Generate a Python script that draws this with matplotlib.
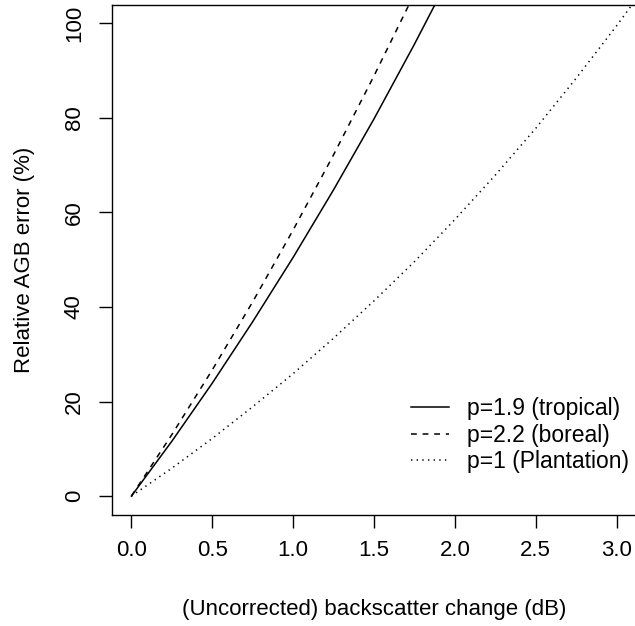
import matplotlib
matplotlib.use("Agg")
import matplotlib.pyplot as plt

# Values (dB change -> relative AGB error, %)
db_tropical = [0.0, 0.25, 0.5, 0.75, 1.0, 1.25, 1.5, 1.75, 1.9]
err_tropical = [0.0, 11.6, 23.9, 36.9, 50.5, 64.8, 79.8, 95.6, 105.5]

db_boreal = [0.0, 0.25, 0.5, 0.75, 1.0, 1.25, 1.5, 1.75]
err_boreal = [0.0, 13.0, 26.7, 41.1, 56.3, 72.2, 88.9, 106.3]

db_plant = [0.0, 0.25, 0.5, 0.75, 1.0, 1.25, 1.5, 1.75, 2.0, 2.25, 2.5, 2.75, 3.0, 3.15]
err_plant = [0.0, 5.9, 12.2, 18.9, 25.9, 33.4, 41.3, 49.6, 58.5, 67.9, 77.8, 88.4, 99.5, 106.5]

labels = ["p=1.9 (tropical)", "p=2.2 (boreal)", "p=1 (Plantation)"]
xticks = [0.0, 0.5, 1.0, 1.5, 2.0, 2.5, 3.0]
yticks = [0, 20, 40, 60, 80, 100]

plt.rcParams['font.family'] = ['Liberation Sans', 'DejaVu Sans']
W, H = 635, 626
fig = plt.figure(figsize=(W / 100, H / 100), dpi=100)
left, right, bottom, top = 112 / W, 636 / W, 1 - 515 / H, 1 - 4.5 / H
ax = fig.add_axes([left, bottom, right - left, top - bottom])

lw = 1.1
ax.plot(db_tropical, err_tropical, color='black', lw=lw, label=labels[0])
ax.plot(db_boreal, err_boreal, color='black', lw=lw, dashes=(3.8, 3.8), label=labels[1])
ax.plot(db_plant, err_plant, color='black', lw=lw, dashes=(0.9, 2.8), label=labels[2])

ax.set_xlim(-0.12, 3.12)
ax.set_ylim(-4, 104)
ax.set_xticks(xticks)
ax.set_xticklabels([f"{v:.1f}" for v in xticks])
ax.set_yticks(yticks)
ax.set_yticklabels([str(v) for v in yticks], rotation=90, va='center')

fs = 16
ax.tick_params(axis='both', direction='out', length=9.5, width=1.0, labelsize=fs, color='black')
ax.tick_params(axis='x', pad=8.5)
ax.tick_params(axis='y', pad=10)
for s in ax.spines.values():
    s.set_linewidth(1.0)
    s.set_color('black')

ax.set_xlabel("(Uncorrected) backscatter change (dB)", fontsize=fs, labelpad=27)
ax.set_ylabel("Relative AGB error (%)", fontsize=fs, labelpad=21)

leg = ax.legend(loc='lower right', bbox_to_anchor=(629 / W, (626 - 473) / H),
                bbox_transform=fig.transFigure, frameon=False, fontsize=16.5,
                handlelength=1.65, handletextpad=0.8, labelspacing=0.15,
                borderaxespad=0, borderpad=0)

fig.savefig("out.png", dpi=100)
